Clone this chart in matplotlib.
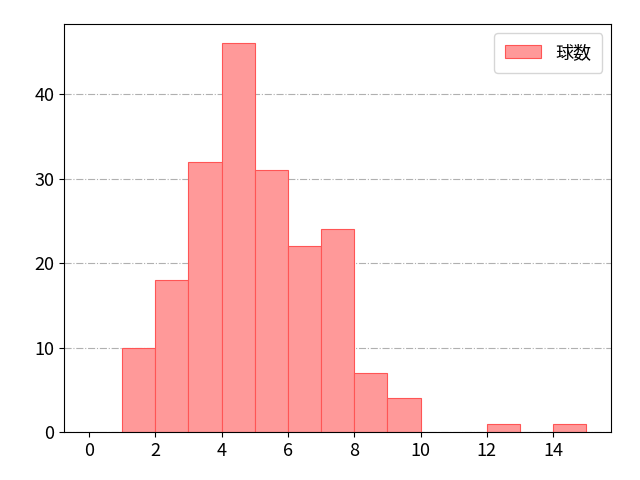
import matplotlib
matplotlib.use("Agg")
import matplotlib.pyplot as plt

plt.rcParams['font.family'] = ['Noto Sans CJK JP', 'DejaVu Sans']

bin_left = [1, 2, 3, 4, 5, 6, 7, 8, 9, 12, 14]
counts = [10, 18, 32, 46, 31, 22, 24, 7, 4, 1, 1]

fig, ax = plt.subplots(figsize=(6.4, 4.8), dpi=100)
ax.bar(bin_left, counts, width=1.0, align='edge', color='#ff9999', edgecolor='#ff5555', linewidth=0.8, label='球数', zorder=2)
ax.set_xlim(-0.75, 15.75)
ax.set_ylim(0, 48.3)
ax.set_xticks(range(0, 16, 2))
ax.set_yticks([0, 10, 20, 30, 40])
ax.tick_params(labelsize=13)
ax.grid(axis='y', linestyle='-.', color='#b0b0b0', linewidth=0.8, zorder=0)
ax.legend(loc='upper right', fontsize=13, borderpad=0.6)
fig.subplots_adjust(left=0.1, right=0.955, bottom=0.1, top=0.95)
fig.savefig('out.png')
